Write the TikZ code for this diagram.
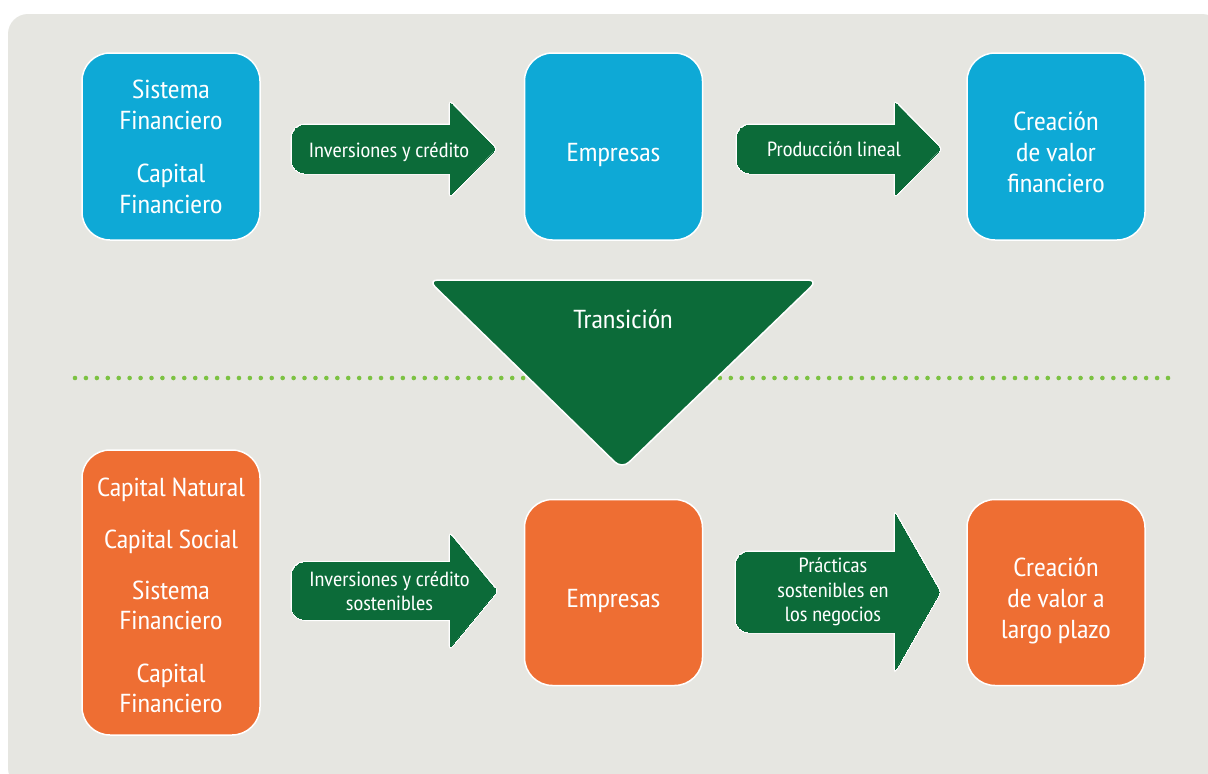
\documentclass[tikz,border=0pt]{standalone}
\usepackage{fontspec}
\setmainfont{PT Sans Narrow}[FakeStretch=1.1]
\usepackage{xcolor}
\usepackage{tikz}
\usetikzlibrary{positioning}

\definecolor{panelgray}{HTML}{E6E6E1}
\definecolor{skyblue}{HTML}{0EA9D6}
\definecolor{sunorange}{HTML}{EE6E33}
\definecolor{deepgreen}{HTML}{0C6B39}
\definecolor{dotgreen}{HTML}{7CC242}

\tikzset{
    box/.style={draw=white, line width=1.5pt, rounded corners=28pt, minimum width=178pt,
        align=center, text=white, inner sep=0pt, font=\fontsize{26}{31}\selectfont},
    bluebox/.style={box, fill=skyblue, minimum height=187pt},
    orangebox/.style={box, fill=sunorange, minimum height=186pt},
    arrowtext/.style={text=white, align=center, inner sep=0pt, font=\fontsize{20.5}{24.5}\selectfont},
}

% strut that pushes the first line down
\newcommand{\sink}[1]{\rule{0pt}{#1}}

% block arrow: left x, head x, tip x, mid y, half shaft, half head, name, text
\newcommand{\greenarrow}[8]{
    \foreach \layer/\lw in {white/3pt, deepgreen/0pt} {
        \filldraw[fill=\layer, draw=\layer, line width=\lw, rounded corners=13pt]
            (#1,#4-#5) rectangle (#2+16,#4+#5);
        \filldraw[fill=\layer, draw=\layer, line width=\lw, rounded corners=3pt]
            (#2,#4-#6) -- (#3,#4) -- (#2,#4+#6) -- cycle;
    }
    \node[arrowtext] (#7) at ({(#1+#3)/2-5},#4) {#8};
}

\begin{document}
\begin{tikzpicture}[x=1pt, y=-1pt]
        \clip (0,0) rectangle (1208,774);
        \fill[white] (0,0) rectangle (1208,774);
        % panel
        \fill[panelgray, rounded corners=20pt] (8,14) rectangle (1222,788);

        % today: financial value chain
        \node[bluebox] (finsys) at (171,146.5) {Sistema\\Financiero\\[22pt]Capital\\Financiero};
        \node[bluebox, right=263pt of finsys] (firms) {\sink{35pt}Empresas};
        \node[bluebox, right=263pt of firms] (finvalue) {\sink{31pt}Creación\\de valor\\financiero};
        \greenarrow{292}{450}{496}{149}{24}{47}{invest}{\sink{21pt}Inversiones y crédito}
        \greenarrow{737}{895}{941}{149}{24}{47}{linear}{Producción lineal}

        % divider
        \foreach \i in {0,...,100}
            \fill[dotgreen] (75+\i*10.93,378) circle (2.3pt);

        % transition wedge
        \fill[deepgreen, draw=white, line width=1.5pt, rounded corners=10pt]
            (428,280) -- (818,280) -- (622,469) -- cycle;
        \node[text=white, font=\fontsize{26}{31}\selectfont] (transition) at (623,319) {Transición};

        % sustainable value chain
        \node[orangebox, minimum height=285pt, font=\fontsize{26}{30}\selectfont] (capitals) at (171,592.5)
            {\sink{25pt}Capital Natural\\[22pt]Capital Social\\[21pt]Sistema\\Financiero\\[23pt]Capital\\Financiero};
        \node[orangebox, right=263pt of capitals] (susfirms) {\sink{35pt}Empresas};
        \node[orangebox, right=263pt of susfirms] (longvalue) {\sink{35pt}Creación\\de valor a\\largo plazo};
        \greenarrow{292}{450}{497}{591}{28.5}{57}{susinvest}{Inversiones y crédito\\sostenibles}
        \greenarrow{736}{895}{940}{592}{40}{79}{practices}{Prácticas\\sostenibles en\\los negocios}
    \end{tikzpicture}
\end{document}
